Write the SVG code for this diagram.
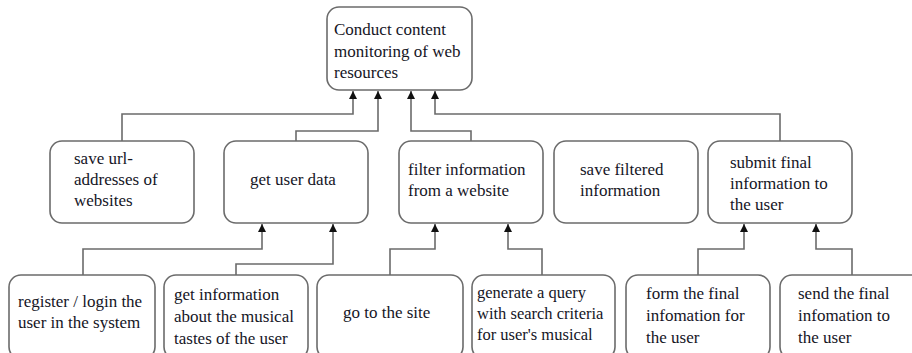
<svg xmlns="http://www.w3.org/2000/svg" width="912" height="353" viewBox="0 0 912 353">
<style>
.box{fill:#fff;stroke:#6b6b6b;stroke-width:1.6}
.t{font-family:'Liberation Serif','DejaVu Serif',serif;font-size:17px;fill:#15151f}
.s{font-family:'Liberation Serif','DejaVu Serif',serif;font-size:16.5px;fill:#15151f}
.c{fill:none;stroke:#6b6b6b;stroke-width:1.6;marker-end:url(#ah)}
</style>
<defs>
<marker id="ah" markerUnits="userSpaceOnUse" markerWidth="8" markerHeight="9" refX="8" refY="4" orient="auto" viewBox="0 0 8 8">
<path d="M0,0 L8,4 L0,8 z" fill="#111"/>
</marker>
</defs>
<rect width="912" height="353" fill="#fff"/>
<g id="connectors">
<path class="c" d="M122,141 V114 H353 V91"/>
<path class="c" d="M296,141 V131 H378 V91"/>
<path class="c" d="M471,141 V131 H411 V91"/>
<path class="c" d="M780,141 V114 H435 V91"/>
<path class="c" d="M83,275 V249 H262 V224"/>
<path class="c" d="M236,275 V264 H333 V224"/>
<path class="c" d="M390,275 V249 H435 V224"/>
<path class="c" d="M542,275 V249 H508 V224"/>
<path class="c" d="M698,275 V249 H744 V224"/>
<path class="c" d="M852,275 V249 H816 V224"/>
</g>
<g id="root">
<rect class="box" x="327" y="7" width="145" height="83" rx="12"/>
<text class="t" x="334" y="35">Conduct content</text>
<text class="t" x="334" y="57">monitoring of web</text>
<text class="t" x="334" y="78">resources</text>
</g>
<g id="save-url">
<rect class="box" x="50" y="141" width="144" height="82" rx="12"/>
<text class="t" x="74" y="164">save url-</text>
<text class="t" x="74" y="185">addresses of</text>
<text class="t" x="74" y="206">websites</text>
</g>
<g id="get-user-data">
<rect class="box" x="224" y="141" width="144" height="82" rx="12"/>
<text class="t" x="250" y="185">get user data</text>
</g>
<g id="filter-info">
<rect class="box" x="399" y="141" width="144" height="82" rx="12"/>
<text class="t" x="408" y="175">filter information</text>
<text class="t" x="408" y="196">from a website</text>
</g>
<g id="save-filtered">
<rect class="box" x="554" y="141" width="144" height="82" rx="12"/>
<text class="t" x="580" y="175">save filtered</text>
<text class="t" x="580" y="196">information</text>
</g>
<g id="submit-final">
<rect class="box" x="708" y="141" width="144" height="82" rx="12"/>
<text class="t" x="730" y="168">submit final</text>
<text class="t" x="730" y="189">information to</text>
<text class="t" x="730" y="210">the user</text>
</g>
<g id="register">
<rect class="box" x="9" y="275" width="146" height="84" rx="12"/>
<text class="t" x="18" y="307">register / login the</text>
<text class="t" x="18" y="328">user in the system</text>
</g>
<g id="get-musical-info">
<rect class="box" x="164" y="275" width="144" height="84" rx="12"/>
<text class="t" x="174" y="300">get information</text>
<text class="t" x="174" y="322">about the musical</text>
<text class="t" x="174" y="344">tastes of the user</text>
</g>
<g id="go-to-site">
<rect class="box" x="317" y="275" width="146" height="84" rx="12"/>
<text class="t" x="343" y="318">go to the site</text>
</g>
<g id="generate-query">
<rect class="box" x="472" y="275" width="143" height="84" rx="12"/>
<text class="s" x="477" y="298">generate a query</text>
<text class="s" x="477" y="319">with search criteria</text>
<text class="s" x="477" y="340">for user's musical</text>
</g>
<g id="form-final">
<rect class="box" x="626" y="275" width="144" height="84" rx="12"/>
<text class="t" x="646" y="299">form the final</text>
<text class="t" x="646" y="321">infomation for</text>
<text class="t" x="646" y="343">the user</text>
</g>
<g id="send-final">
<rect class="box" x="780" y="275" width="144" height="84" rx="12"/>
<text class="t" x="798" y="299">send the final</text>
<text class="t" x="798" y="321">infomation to</text>
<text class="t" x="798" y="343">the user</text>
</g>
</svg>
